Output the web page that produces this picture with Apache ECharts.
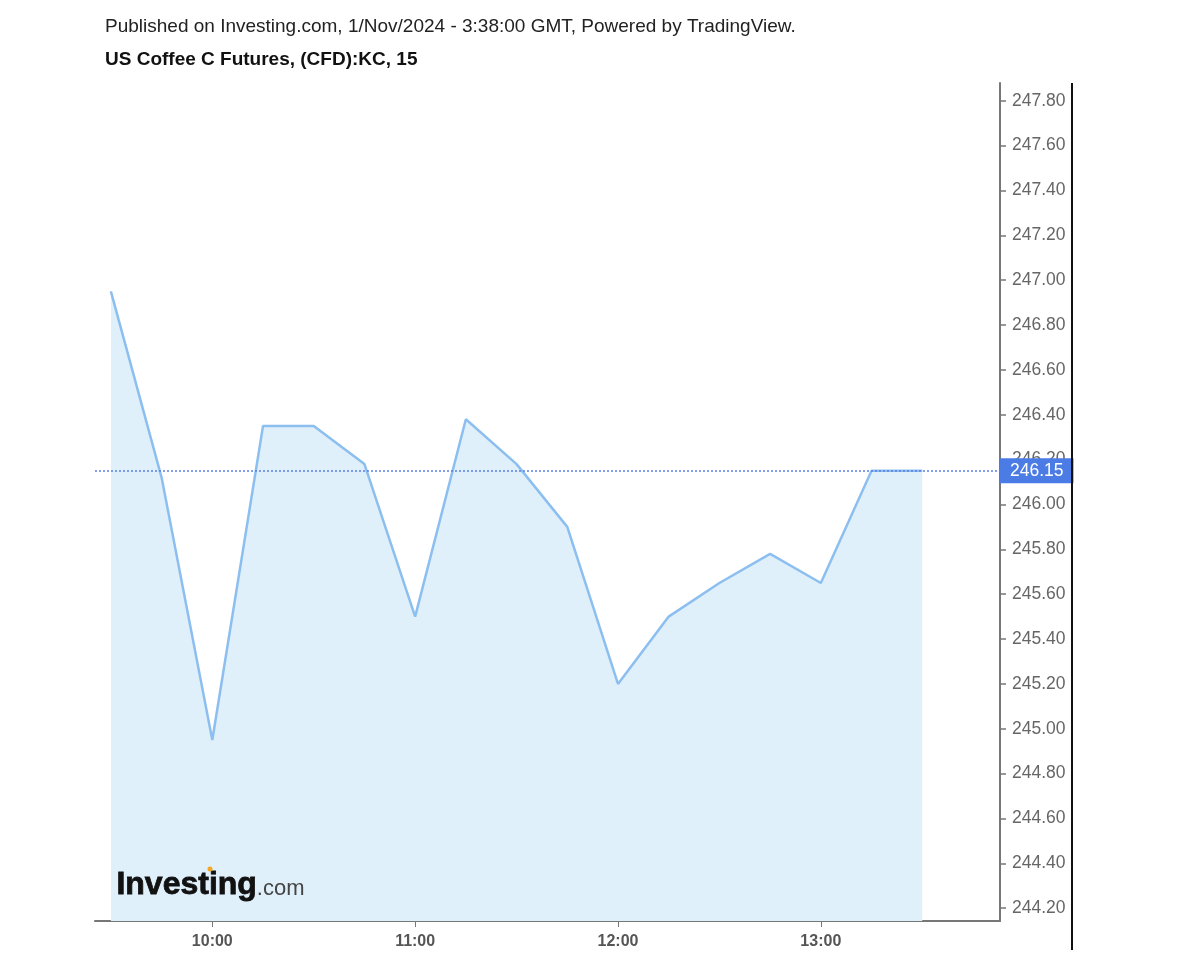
<!DOCTYPE html>
<html>
<head>
<meta charset="utf-8">
<script src="https://cdn.jsdelivr.net/npm/echarts@6/dist/echarts.min.js"></script>
<style>
  html, body { margin: 0; padding: 0; background: #fff; }
  #chart { width: 1200px; height: 960px; }
</style>
</head>
<body>
<div id="chart"></div>
<script>
// 15 minute closes
const times = ['09:30', '09:45', '10:00', '10:15', '10:30', '10:45', '11:00', '11:15', '11:30',
  '11:45', '12:00', '12:15', '12:30', '12:45', '13:00', '13:15', '13:30'];
const prices = [246.95, 246.12, 244.95, 246.35, 246.35, 246.18, 245.50, 246.38, 246.18,
  245.90, 245.20, 245.50, 245.65, 245.78, 245.65, 246.15, 246.15];
const lastPrice = 246.15;
const xTicks = ['10:00', '11:00', '12:00', '13:00'];
const yTicks = [244.2, 244.4, 244.6, 244.8, 245.0, 245.2, 245.4, 245.6, 245.8, 246.0,
  246.2, 246.4, 246.6, 246.8, 247.0, 247.2, 247.4, 247.6, 247.8];

// hh:mm -> minutes since midnight
function toMin(t) {
  const p = t.split(':');
  return +p[0] * 60 + +p[1];
}
function fromMin(m) {
  const h = Math.floor(m / 60), mm = m % 60;
  return h + ':' + (mm < 10 ? '0' : '') + mm;
}

const chart = echarts.init(document.getElementById('chart'));
const font = 'Arial, "Liberation Sans", sans-serif';

const option = {
  animation: false,
  textStyle: { fontFamily: font },
  grid: { left: 95, right: 200, top: 83, bottom: 39 },
  xAxis: {
    type: 'value',
    min: 565.3,
    max: 833,
    axisLine: { lineStyle: { color: '#777', width: 2 } },
    axisTick: { length: 6, lineStyle: { color: '#777' }, customValues: xTicks.map(toMin) },
    axisLabel: {
      customValues: xTicks.map(toMin),
      formatter: v => fromMin(v),
      color: '#555',
      fontWeight: 'bold',
      fontSize: 16,
      margin: 13
    },
    splitLine: { show: false }
  },
  yAxis: {
    type: 'value',
    position: 'right',
    min: 244.143,
    max: 247.879,
    axisLine: { show: true, lineStyle: { color: '#777', width: 2 } },
    axisTick: { show: true, length: 6, lineStyle: { color: '#777', width: 1.5 }, customValues: yTicks },
    axisLabel: {
      customValues: yTicks,
      formatter: v => v.toFixed(2),
      color: '#666',
      fontSize: 17.5,
      margin: 12
    },
    splitLine: { show: false }
  },
  series: [
    {
      type: 'line',
      data: times.map((t, i) => [toMin(t), prices[i]]),
      symbol: 'none',
      lineStyle: { color: '#8cbff0', width: 2.5 },
      areaStyle: { color: '#e0f0fa', origin: 'start', opacity: 1 },
      markLine: {
        silent: true,
        symbol: 'none',
        lineStyle: { color: '#5a7fe6', type: [2, 2], width: 1.5 },
        label: {
          position: 'end',
          distance: 0,
          formatter: lastPrice.toFixed(2),
          backgroundColor: '#4b7be5',
          color: '#fff',
          fontSize: 17.5,
          padding: [4, 10, 3, 10]
        },
        data: [{ yAxis: lastPrice }]
      }
    }
  ],
  graphic: [
    {
      type: 'text',
      left: 105,
      top: 17,
      z: 100,
      style: {
        text: 'Published on Investing.com, 1/Nov/2024 - 3:38:00 GMT, Powered by TradingView.',
        font: '19px ' + font,
        fill: '#222'
      }
    },
    {
      type: 'text',
      left: 105,
      top: 50,
      z: 100,
      style: {
        text: 'US Coffee C Futures, (CFD):KC, 15',
        font: 'bold 19px ' + font,
        fill: '#111'
      }
    },
    {
      type: 'line',
      z: 100,
      shape: { x1: 1072, y1: 83, x2: 1072, y2: 950 },
      style: { stroke: '#111', lineWidth: 2 }
    },
    {
      type: 'text',
      left: 116,
      top: 869,
      z: 100,
      style: {
        text: '{a|Investing}{b|.com}',
        rich: {
          a: { fontSize: 32, fontWeight: 'bold', fontFamily: font, fill: '#111',
            stroke: '#111', lineWidth: 0.8 },
          b: { fontSize: 22, fontFamily: font, fill: '#444', padding: [8, 0, 0, 0] }
        }
      }
    },
    {
      // orange accent over the logo's "i"
      type: 'circle',
      z: 101,
      shape: { cx: 210, cy: 869, r: 2.5 },
      style: { fill: '#f5a623' }
    }
  ]
};

chart.setOption(option);
</script>
</body>
</html>
